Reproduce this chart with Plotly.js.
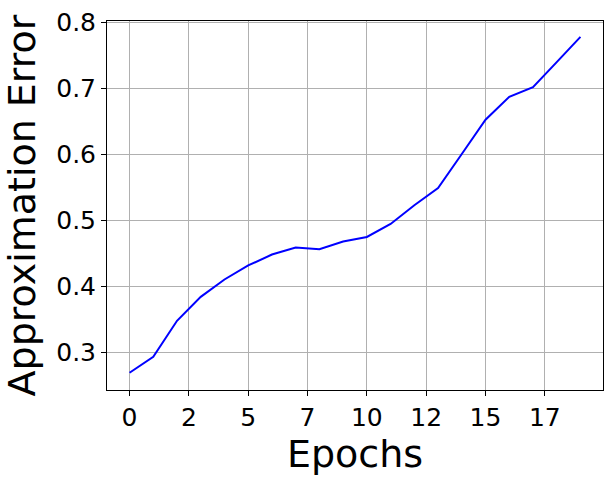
<!DOCTYPE html>
<html>
<head>
<meta charset="utf-8">
<script src="https://cdn.plot.ly/plotly-3.0.1.min.js"></script>
<style>html,body{margin:0;padding:0;background:#fff;}#chart{width:613px;height:481px;}</style>
</head>
<body>
<div id="chart"></div>
<script>
const epochs = [0,1,2,3,4,5,6,7,8,9,10,11,12,13,14,15,16,17,18,19];
const approxError = [0.2686,0.2929,0.3474,0.3838,0.4101,0.4314,0.4480,0.4586,0.4561,0.4677,0.4747,0.4944,0.5227,0.5490,0.6005,0.6526,0.6874,0.7020,0.7400,0.7783];
const xTickVals = [0,2.5,5,7.5,10,12.5,15,17.5];
const xTickText = ['0','2','5','7','10','12','15','17'];
const yTickVals = [0.3,0.4,0.5,0.6,0.7,0.8];

const font = 'DejaVu Sans, sans-serif';
Plotly.newPlot('chart', [{
  x: epochs, y: approxError, type: 'scatter', mode: 'lines',
  line: {color: '#0000ff', width: 2}, hoverinfo: 'skip'
}], {
  width: 613, height: 481,
  margin: {l: 107, r: 10, t: 21, b: 91, pad: 0},
  paper_bgcolor: '#fff', plot_bgcolor: '#fff',
  showlegend: false,
  font: {family: font, color: '#000'},
  xaxis: {
    range: [-0.95, 19.95], tickvals: xTickVals, ticktext: xTickText,
    showgrid: true, gridcolor: '#b0b0b0', gridwidth: 1,
    showline: true, linecolor: '#000', linewidth: 1, mirror: true,
    ticks: 'outside', ticklen: 5, tickcolor: '#000', tickwidth: 1,
    tickfont: {family: font, size: 25, color: '#000'},
    zeroline: false,
    title: {text: 'Epochs', font: {family: font, size: 38, color: '#000'}, standoff: 6}
  },
  yaxis: {
    range: [0.2424, 0.8024], tickvals: yTickVals, tickformat: '.1f',
    showgrid: true, gridcolor: '#b0b0b0', gridwidth: 1,
    showline: true, linecolor: '#000', linewidth: 1, mirror: true,
    ticks: 'outside', ticklen: 5, tickcolor: '#000', tickwidth: 1,
    tickfont: {family: font, size: 25, color: '#000'},
    zeroline: false,
    title: {text: 'Approximation Error', font: {family: font, size: 38, color: '#000'}, standoff: 8}
  }
}, {staticPlot: true, displayModeBar: false});
</script>
</body>
</html>
